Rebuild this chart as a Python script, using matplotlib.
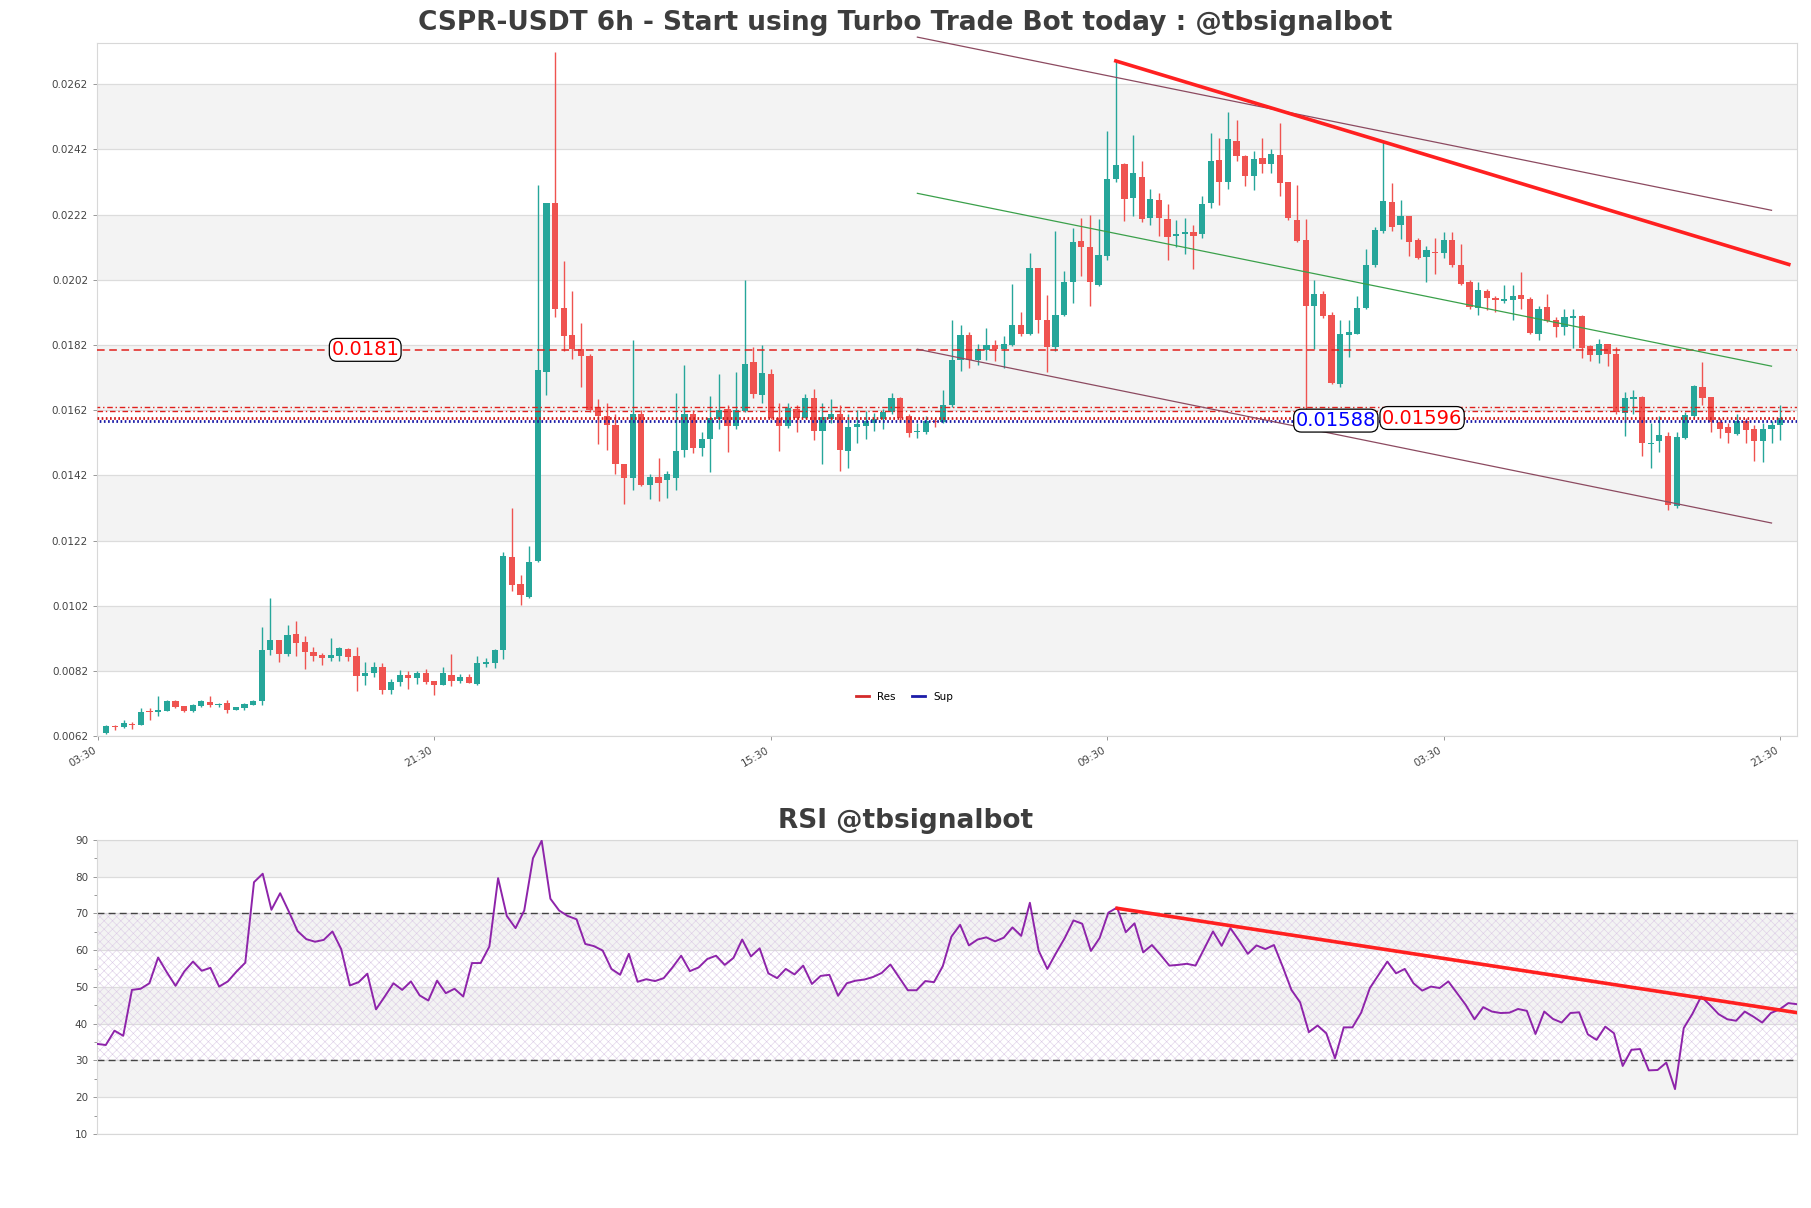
import matplotlib
matplotlib.use("Agg")
import matplotlib.pyplot as plt
from matplotlib.lines import Line2D
from matplotlib.ticker import MultipleLocator, FormatStrFormatter
import numpy as np

title = "CSPR-USDT 6h - Start using Turbo Trade Bot today : @tbsignalbot"
rsi_title = "RSI @tbsignalbot"

# 6h candles
opens = [0.00630, 0.00652, 0.00647, 0.00659, 0.00656, 0.00695, 0.00693, 0.00699, 0.00728, 0.00712,
         0.00699, 0.00714, 0.00725, 0.00717, 0.00722, 0.00702, 0.00707, 0.00717, 0.00729, 0.00885,
         0.00916, 0.00872, 0.00935, 0.00908, 0.00877, 0.00869, 0.00860, 0.00866, 0.00889, 0.00865,
         0.00804, 0.00813, 0.00832, 0.00762, 0.00786, 0.00809, 0.00799, 0.00815, 0.00789, 0.00777,
         0.00809, 0.00788, 0.00801, 0.00780, 0.00843, 0.00846, 0.00884, 0.01171, 0.01086, 0.01048,
         0.01157, 0.01736, 0.02255, 0.01932, 0.01850, 0.01807, 0.01786, 0.01630, 0.01602, 0.01574,
         0.01454, 0.01413, 0.01608, 0.01390, 0.01414, 0.01406, 0.01413, 0.01499, 0.01608, 0.01503,
         0.01531, 0.01592, 0.01625, 0.01570, 0.01619, 0.01767, 0.01666, 0.01732, 0.01595, 0.01570,
         0.01625, 0.01595, 0.01658, 0.01557, 0.01592, 0.01608, 0.01496, 0.01567, 0.01572, 0.01581,
         0.01592, 0.01614, 0.01658, 0.01602, 0.01554, 0.01554, 0.01588, 0.01584, 0.01636, 0.01775,
         0.01850, 0.01775, 0.01804, 0.01820, 0.01809, 0.01820, 0.01882, 0.01855, 0.02057, 0.01896,
         0.01814, 0.01913, 0.02014, 0.02139, 0.02121, 0.02005, 0.02094, 0.02330, 0.02375, 0.02271,
         0.02336, 0.02210, 0.02265, 0.02207, 0.02153, 0.02159, 0.02166, 0.02159, 0.02254, 0.02388,
         0.02319, 0.02445, 0.02401, 0.02337, 0.02394, 0.02374, 0.02404, 0.02319, 0.02203, 0.02142,
         0.01939, 0.01975, 0.01912, 0.01700, 0.01852, 0.01855, 0.01932, 0.02066, 0.02169, 0.02258,
         0.02187, 0.02217, 0.02142, 0.02090, 0.02105, 0.02101, 0.02142, 0.02066, 0.02014, 0.01932,
         0.01984, 0.01964, 0.01954, 0.01957, 0.01973, 0.01960, 0.01855, 0.01937, 0.01896, 0.01875,
         0.01902, 0.01909, 0.01816, 0.01789, 0.01823, 0.01793, 0.01612, 0.01655, 0.01660, 0.01517,
         0.01524, 0.01540, 0.01325, 0.01536, 0.01602, 0.01690, 0.01659, 0.01585, 0.01567, 0.01547,
         0.01588, 0.01563, 0.01524, 0.01561, 0.01574]
highs = [0.00655, 0.00654, 0.00670, 0.00664, 0.00706, 0.00706, 0.00743, 0.00732, 0.00731, 0.00712,
         0.00720, 0.00730, 0.00743, 0.00721, 0.00730, 0.00710, 0.00722, 0.00732, 0.00956, 0.01044,
         0.00916, 0.00962, 0.00974, 0.00928, 0.00893, 0.00875, 0.00921, 0.00895, 0.00892, 0.00895,
         0.00847, 0.00847, 0.00844, 0.00795, 0.00824, 0.00820, 0.00820, 0.00827, 0.00791, 0.00833,
         0.00872, 0.00812, 0.00810, 0.00865, 0.00859, 0.00887, 0.01185, 0.01319, 0.01116, 0.01202,
         0.02312, 0.02255, 0.02718, 0.02077, 0.01984, 0.01887, 0.01792, 0.01655, 0.01643, 0.01608,
         0.01454, 0.01834, 0.01622, 0.01424, 0.01472, 0.01433, 0.01673, 0.01759, 0.01620, 0.01554,
         0.01663, 0.01732, 0.01636, 0.01736, 0.02019, 0.01814, 0.01820, 0.01745, 0.01643, 0.01643,
         0.01636, 0.01670, 0.01684, 0.01643, 0.01655, 0.01636, 0.01608, 0.01622, 0.01617, 0.01611,
         0.01625, 0.01673, 0.01660, 0.01608, 0.01581, 0.01602, 0.01595, 0.01681, 0.01898, 0.01882,
         0.01861, 0.01824, 0.01871, 0.01834, 0.01849, 0.02008, 0.01920, 0.02103, 0.02057, 0.01973,
         0.02169, 0.02046, 0.02180, 0.02210, 0.02219, 0.02207, 0.02477, 0.02691, 0.02378, 0.02463,
         0.02385, 0.02299, 0.02285, 0.02251, 0.02203, 0.02210, 0.02189, 0.02278, 0.02470, 0.02456,
         0.02535, 0.02511, 0.02404, 0.02415, 0.02456, 0.02422, 0.02501, 0.02319, 0.02310, 0.02207,
         0.02019, 0.01984, 0.01920, 0.01898, 0.01898, 0.01971, 0.02114, 0.02183, 0.02442, 0.02317,
         0.02265, 0.02217, 0.02148, 0.02124, 0.02148, 0.02166, 0.02166, 0.02131, 0.02019, 0.02012,
         0.01991, 0.01971, 0.02005, 0.02005, 0.02043, 0.01967, 0.01939, 0.01975, 0.01906, 0.01930,
         0.01930, 0.01912, 0.01820, 0.01837, 0.01824, 0.01814, 0.01677, 0.01681, 0.01663, 0.01581,
         0.01602, 0.01554, 0.01554, 0.01615, 0.01697, 0.01768, 0.01659, 0.01595, 0.01581, 0.01608,
         0.01595, 0.01574, 0.01581, 0.01588, 0.01636]
lows = [0.00628, 0.00639, 0.00645, 0.00642, 0.00654, 0.00671, 0.00681, 0.00697, 0.00707, 0.00695,
        0.00695, 0.00710, 0.00709, 0.00709, 0.00690, 0.00700, 0.00702, 0.00715, 0.00717, 0.00870,
        0.00849, 0.00867, 0.00867, 0.00825, 0.00851, 0.00839, 0.00850, 0.00850, 0.00850, 0.00759,
        0.00777, 0.00801, 0.00750, 0.00750, 0.00775, 0.00765, 0.00779, 0.00779, 0.00747, 0.00777,
        0.00774, 0.00784, 0.00782, 0.00778, 0.00831, 0.00829, 0.00857, 0.01064, 0.01023, 0.01045,
        0.01155, 0.01667, 0.01906, 0.01800, 0.01777, 0.01690, 0.01615, 0.01516, 0.01499, 0.01424,
        0.01331, 0.01376, 0.01386, 0.01349, 0.01342, 0.01351, 0.01376, 0.01475, 0.01488, 0.01481,
        0.01431, 0.01563, 0.01493, 0.01561, 0.01615, 0.01656, 0.01643, 0.01592, 0.01496, 0.01565,
        0.01554, 0.01595, 0.01529, 0.01455, 0.01581, 0.01435, 0.01444, 0.01520, 0.01533, 0.01557,
        0.01561, 0.01608, 0.01585, 0.01537, 0.01536, 0.01547, 0.01567, 0.01581, 0.01629, 0.01741,
        0.01749, 0.01759, 0.01775, 0.01770, 0.01749, 0.01816, 0.01849, 0.01850, 0.01857, 0.01738,
        0.01800, 0.01909, 0.01950, 0.02032, 0.01939, 0.02002, 0.02080, 0.02319, 0.02199, 0.02217,
        0.02196, 0.02189, 0.02153, 0.02080, 0.02121, 0.02098, 0.02053, 0.02148, 0.02240, 0.02248,
        0.02299, 0.02385, 0.02308, 0.02296, 0.02347, 0.02347, 0.02276, 0.02203, 0.02135, 0.01622,
        0.01807, 0.01902, 0.01701, 0.01690, 0.01783, 0.01855, 0.01930, 0.02060, 0.02162, 0.02169,
        0.02146, 0.02094, 0.02084, 0.02012, 0.02039, 0.02087, 0.02060, 0.02005, 0.01930, 0.01912,
        0.01926, 0.01920, 0.01950, 0.01898, 0.01930, 0.01855, 0.01834, 0.01889, 0.01845, 0.01850,
        0.01811, 0.01779, 0.01770, 0.01766, 0.01756, 0.01608, 0.01540, 0.01608, 0.01479, 0.01444,
        0.01492, 0.01315, 0.01321, 0.01533, 0.01598, 0.01636, 0.01554, 0.01536, 0.01520, 0.01543,
        0.01520, 0.01465, 0.01462, 0.01520, 0.01529]
closes = [0.00652, 0.00648, 0.00662, 0.00655, 0.00694, 0.00693, 0.00701, 0.00729, 0.00711, 0.00699,
          0.00716, 0.00728, 0.00717, 0.00720, 0.00702, 0.00710, 0.00719, 0.00729, 0.00884, 0.00914,
          0.00873, 0.00932, 0.00906, 0.00879, 0.00867, 0.00861, 0.00868, 0.00890, 0.00864, 0.00804,
          0.00814, 0.00832, 0.00762, 0.00787, 0.00809, 0.00798, 0.00815, 0.00787, 0.00777, 0.00814,
          0.00789, 0.00801, 0.00782, 0.00844, 0.00847, 0.00885, 0.01174, 0.01084, 0.01053, 0.01155,
          0.01742, 0.02255, 0.01930, 0.01849, 0.01807, 0.01786, 0.01622, 0.01602, 0.01574, 0.01454,
          0.01413, 0.01608, 0.01390, 0.01414, 0.01397, 0.01424, 0.01495, 0.01608, 0.01503, 0.01531,
          0.01595, 0.01622, 0.01570, 0.01622, 0.01763, 0.01670, 0.01734, 0.01595, 0.01570, 0.01626,
          0.01595, 0.01658, 0.01557, 0.01598, 0.01608, 0.01499, 0.01567, 0.01578, 0.01588, 0.01592,
          0.01613, 0.01658, 0.01595, 0.01551, 0.01557, 0.01588, 0.01584, 0.01636, 0.01775, 0.01850,
          0.01775, 0.01807, 0.01820, 0.01807, 0.01824, 0.01882, 0.01855, 0.02055, 0.01896, 0.01814,
          0.01913, 0.02014, 0.02137, 0.02121, 0.02012, 0.02096, 0.02330, 0.02373, 0.02269, 0.02347,
          0.02207, 0.02267, 0.02210, 0.02151, 0.02159, 0.02166, 0.02155, 0.02251, 0.02385, 0.02319,
          0.02453, 0.02401, 0.02337, 0.02390, 0.02374, 0.02405, 0.02317, 0.02210, 0.02139, 0.01941,
          0.01975, 0.01909, 0.01704, 0.01855, 0.01861, 0.01932, 0.02066, 0.02173, 0.02261, 0.02183,
          0.02214, 0.02135, 0.02087, 0.02110, 0.02101, 0.02142, 0.02066, 0.02008, 0.01937, 0.01988,
          0.01964, 0.01957, 0.01960, 0.01971, 0.01960, 0.01857, 0.01930, 0.01893, 0.01875, 0.01905,
          0.01909, 0.01811, 0.01789, 0.01823, 0.01793, 0.01615, 0.01656, 0.01659, 0.01520, 0.01520,
          0.01543, 0.01328, 0.01537, 0.01604, 0.01693, 0.01656, 0.01585, 0.01561, 0.01550, 0.01588,
          0.01558, 0.01524, 0.01561, 0.01574, 0.01595]

rsi = [34.5, 34.2, 38.1, 36.7, 49.2, 49.5, 51.0, 58.0, 54.0, 50.3,
       54.2, 56.9, 54.4, 55.2, 50.1, 51.5, 54.2, 56.6, 78.5, 80.8,
       71.0, 75.5, 70.5, 65.2, 63.0, 62.3, 62.8, 65.1, 60.3, 50.4,
       51.3, 53.6, 43.9, 47.4, 51.0, 49.2, 51.5, 47.7, 46.3, 51.7,
       48.3, 49.5, 47.4, 56.5, 56.5, 61.0, 79.6, 69.3, 66.0, 70.8,
       85.0, 89.8, 74.0, 70.8, 69.3, 68.4, 61.7, 61.1, 59.9, 54.9,
       53.3, 59.0, 51.4, 52.1, 51.6, 52.4, 55.3, 58.5, 54.3, 55.3,
       57.6, 58.5, 56.0, 57.9, 62.9, 58.3, 60.5, 53.7, 52.4, 54.9,
       53.4, 55.8, 50.8, 53.0, 53.3, 47.6, 51.0, 51.7, 52.0, 52.7,
       53.8, 56.1, 52.6, 49.1, 49.1, 51.6, 51.3, 55.6, 63.7, 66.9,
       61.3, 62.9, 63.5, 62.4, 63.4, 66.2, 63.9, 72.9, 59.9, 54.9,
       59.2, 63.3, 68.1, 67.2, 59.8, 63.3, 70.2, 71.6, 64.9, 67.3,
       59.4, 61.4, 58.7, 55.8, 56.0, 56.3, 55.8, 60.4, 65.1, 61.2,
       66.0, 62.6, 59.0, 61.3, 60.3, 61.4, 55.5, 49.2, 45.8, 37.7,
       39.5, 37.4, 30.6, 39.0, 39.0, 43.0, 49.7, 53.3, 56.9, 53.7,
       54.9, 51.0, 49.0, 50.1, 49.7, 51.5, 48.3, 45.1, 41.2, 44.5,
       43.3, 42.9, 43.0, 44.0, 43.5, 37.2, 43.3, 41.3, 40.3, 42.9,
       43.1, 37.1, 35.6, 39.2, 37.4, 28.5, 32.9, 33.1, 27.3, 27.4,
       29.4, 22.2, 38.8, 42.7, 47.4, 45.1, 42.6, 41.2, 40.8, 43.3,
       41.9, 40.3, 42.9, 43.9, 45.6, 45.3]

tick_idx = [-1, 38, 77, 116, 155, 194]
tick_labels = ["03:30", "21:30", "15:30", "09:30", "03:30", "21:30"]

# support / resistance levels
res_line = 0.01805
res_zone = [0.01619, 0.01631]
sup_line = 0.01588
res_near = 0.01596
level_labels = ["0.0181", "0.01588", "0.01596"]
level_label_x = [30, 142.5, 152.5]
level_label_y = [0.01805, 0.01588, 0.01596]
level_label_colors = ["red", "blue", "red"]

# trend lines (candle index, price)
trend_x = [117, 195]
trend_y = [0.02691, 0.02067]
chan_x = [94, 193]
chan_upper = [0.02764, 0.02233]
chan_mid = [0.02285, 0.01755]
chan_lower = [0.01807, 0.01274]

rsi_trend_x = [117, 195]
rsi_trend_y = [71.4, 43.0]

UP = "#26a69a"
DOWN = "#ef5350"
BAND = "#f3f3f3"
GRID = "#dcdcdc"
TXT = "#444444"

fig = plt.figure(figsize=(18.11, 12.08), dpi=100)
ax = fig.add_axes([0.0536, 0.3905, 0.9387, 0.5739])
ax2 = fig.add_axes([0.0536, 0.0613, 0.9387, 0.2434])

n = len(closes)
x = np.arange(n)
o = np.array(opens); h = np.array(highs); l = np.array(lows); c = np.array(closes)
up = c >= o
cols = np.where(up, UP, DOWN)

# price panel
yticks = np.round(0.0062 + 0.002 * np.arange(11), 4)
for k in range(1, 10, 2):
    ax.axhspan(yticks[k], yticks[k + 1], color=BAND, zorder=0, lw=0)
for yt in yticks:
    ax.axhline(yt, color=GRID, lw=0.9, zorder=0.5)

ax.vlines(x, l, h, colors=cols, lw=1.0, zorder=2)
body = np.maximum(np.abs(c - o), 0.00003)
ax.bar(x, body, bottom=np.minimum(o, c), width=0.72, color=cols, lw=0, zorder=3)

ax.axhline(res_line, color="#e0201c", lw=1.1, ls=(0, (5, 3)), zorder=4)
ax.axhline(res_zone[0], color="#e0201c", lw=1.0, ls=(0, (4, 2, 1, 2)), zorder=4)
ax.axhline(res_zone[1], color="#e0201c", lw=1.0, ls=(2, (4, 2, 1, 2)), zorder=4)
ax.axhline(res_near, color="#d01818", lw=2.0, ls=(0, (0.6, 0.9)), zorder=4)
ax.axhline(sup_line, color="#1a1aa8", lw=2.0, ls=(0.7, (0.6, 0.9)), zorder=4)

ax.plot(chan_x, chan_upper, color="#8c4a60", lw=0.9, zorder=4, clip_on=False)
ax.plot(chan_x, chan_mid, color="#3aa04a", lw=0.9, zorder=4)
ax.plot(chan_x, chan_lower, color="#8c4a60", lw=0.9, zorder=4)
ax.plot(trend_x, trend_y, color="#ff2020", lw=2.6, zorder=5)

for txt, lx, ly, lc in zip(level_labels, level_label_x, level_label_y, level_label_colors):
    ax.text(lx, ly, txt, color=lc, fontsize=14, ha="center", va="center", zorder=6,
            bbox=dict(boxstyle="round,pad=0.1,rounding_size=0.4", fc="white", ec="black", lw=0.9))

ax.set_xlim(-1.08, 195.96)
ax.set_ylim(0.0062, 0.02746)
ax.set_yticks(yticks)
ax.yaxis.set_major_formatter(FormatStrFormatter("%.4f"))
ax.set_xticks(tick_idx)
ax.set_xticklabels(tick_labels, rotation=30, ha="right")
ax.tick_params(axis="both", labelsize=7.5, colors="#888888", labelcolor=TXT, length=3, width=0.6)
for s in ax.spines.values():
    s.set_color("#d8d8d8")

handles = [Line2D([], [], color="#d42a2a", lw=2), Line2D([], [], color="#1c1ca8", lw=2)]
ax.legend(handles, ["Res", "Sup"], loc="center", bbox_to_anchor=(0.475, 0.057), ncol=2,
          frameon=False, fontsize=7.5, handlelength=1.2, columnspacing=1.6)

fig.text(0.5, 0.981, title, ha="center", va="center", fontsize=19, fontweight="bold", color="#3d3d3d")

# RSI panel
rx = np.arange(len(rsi))
for lo, hi in [(80, 90), (60, 70), (40, 50), (20, 30)]:
    ax2.axhspan(lo, hi, color=BAND, zorder=0, lw=0)
for yt in range(10, 91, 10):
    ax2.axhline(yt, color=GRID, lw=0.9, zorder=0.5)
plt.rcParams["hatch.linewidth"] = 0.4
ax2.fill_between([0, len(rsi) - 1], 30, 70, facecolor="none", hatch="xxxx", edgecolor="#dccce6", lw=0, zorder=1)
ax2.axhline(70, color="#444444", lw=1.0, ls=(0, (5, 3)), zorder=2)
ax2.axhline(30, color="#444444", lw=1.0, ls=(0, (5, 3)), zorder=2)
ax2.plot(rx, rsi, color="#8e24aa", lw=1.4, zorder=3)
ax2.plot(rsi_trend_x, rsi_trend_y, color="#ff2020", lw=2.6, zorder=4)

ax2.set_xlim(0, len(rsi) - 1)
ax2.set_ylim(10, 90)
ax2.set_yticks(range(10, 91, 10))
ax2.yaxis.set_minor_locator(MultipleLocator(5))
ax2.set_xticks([])
ax2.tick_params(axis="y", which="both", labelsize=7.5, colors="#888888", labelcolor=TXT, length=3, width=0.6)
ax2.tick_params(axis="y", which="minor", length=2)
for s in ax2.spines.values():
    s.set_color("#d8d8d8")

fig.text(0.5, 0.3205, rsi_title, ha="center", va="center", fontsize=19, fontweight="bold", color="#3d3d3d")

fig.savefig("out.png", dpi=100)
